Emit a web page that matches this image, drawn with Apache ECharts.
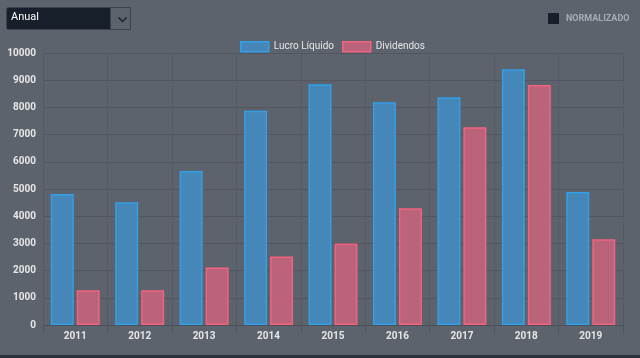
<!DOCTYPE html>
<html>
<head>
<meta charset="utf-8">
<script src="https://cdn.jsdelivr.net/npm/echarts@6/dist/echarts.min.js"></script>
<style>
html,body{margin:0;padding:0;background:#5d636c;}
#chart{width:640px;height:358px;}
</style>
</head>
<body>
<div id="chart"></div>
<script>
var categories = ['2011','2012','2013','2014','2015','2016','2017','2018','2019'];
var lucroLiquido = [4820, 4510, 5660, 7880, 8850, 8190, 8370, 9400, 4890];
var dividendos = [1280, 1280, 2110, 2520, 3000, 4290, 7270, 8820, 3150];
var seriesNames = ['Lucro Líquido', 'Dividendos'];

var chart = echarts.init(document.getElementById('chart'));
var font = 'Roboto, "Liberation Sans", Arial, sans-serif';
chart.setOption({
  backgroundColor: '#5d636c',
  animation: false,
  textStyle: {fontFamily: font},
  legend: {
    top: 36, left: 235,
    icon: 'rect',
    itemWidth: 28, itemHeight: 10, itemGap: 8,
    itemStyle: {borderWidth: 1.5},
    textStyle: {color: '#e6e6e6', fontSize: 10, fontFamily: font},
    data: seriesNames
  },
  grid: {left: 43, right: 17, top: 53, bottom: 33, containLabel: false},
  xAxis: {
    type: 'category',
    data: categories,
    axisLine: {lineStyle: {color: '#4c5158'}},
    axisTick: {show: true, length: 8, lineStyle: {color: '#4f545b'}},
    splitLine: {show: true, interval: 0, lineStyle: {color: '#565b63'}},
    axisLabel: {color: '#e6e6e6', fontSize: 10, fontWeight: 'bold', margin: 6}
  },
  yAxis: {
    type: 'value', min: 0, max: 10000, interval: 1000,
    axisLine: {show: false},
    axisTick: {show: false},
    splitLine: {lineStyle: {color: '#52575f'}},
    axisLabel: {color: '#e6e6e6', fontSize: 10, fontWeight: 'bold', margin: 7,
      formatter: function (v) { return String(v); }}
  },
  series: [
    {
      name: seriesNames[0], type: 'bar', data: lucroLiquido,
      barWidth: 23, barGap: '13%',
      itemStyle: {color: '#4487b8', borderColor: '#339fe8', borderWidth: 1.5}
    },
    {
      name: seriesNames[1], type: 'bar', data: dividendos,
      barWidth: 23,
      itemStyle: {color: '#ba637a', borderColor: '#f2637f', borderWidth: 1.5}
    }
  ],
  graphic: [
    {type: 'rect', left: 6, top: 7, shape: {width: 124, height: 22, r: 2}, style: {fill: '#17202a', stroke: '#3d434b', lineWidth: 1}},
    {type: 'rect', left: 110, top: 7, shape: {width: 20, height: 22}, style: {fill: '#5d636c', stroke: '#3d434b', lineWidth: 1}},
    {type: 'polyline', left: 116, top: 15, shape: {points: [[0,0],[4,4],[8,0]]}, style: {stroke: '#1b232c', lineWidth: 1.5, fill: null}},
    {type: 'text', left: 11, top: 12, style: {text: 'Anual', fill: '#ffffff', fontSize: 11, fontFamily: font}},
    {type: 'rect', left: 548, top: 13, shape: {width: 11, height: 11}, style: {fill: '#17202a'}},
    {type: 'text', left: 566, top: 14, style: {text: 'NORMALIZADO', fill: '#a4adb6', fontSize: 9, fontWeight: 'bold', fontFamily: font}},
    {type: 'rect', left: 0, top: 355, shape: {width: 640, height: 3}, style: {fill: '#2c3239'}}
  ]
});
</script>
</body>
</html>
